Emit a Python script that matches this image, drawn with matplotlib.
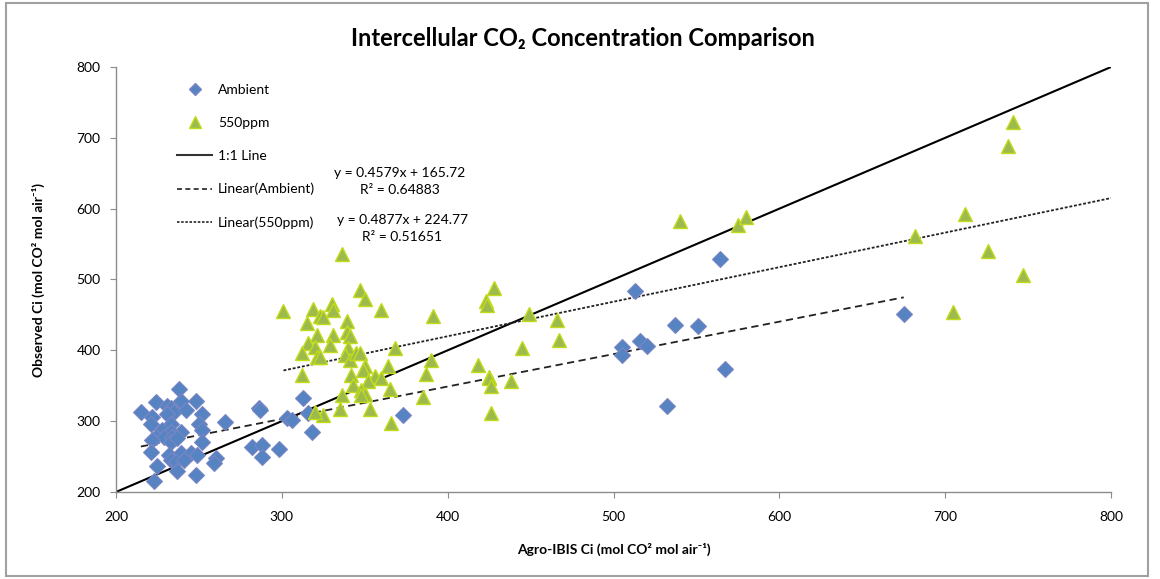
import matplotlib.pyplot as plt
from matplotlib.patches import Rectangle
from matplotlib.lines import Line2D
import numpy as np

# Ambient CO2 runs: model Ci vs observed Ci
ambient_x = [215, 224, 238, 239, 248, 231, 233, 235, 242, 222, 252, 231, 266, 221, 233,
             250, 228, 233, 239, 252, 224, 229, 234, 222, 233, 237, 252, 221, 232, 239,
             245, 249, 233, 236, 241, 260, 259, 225, 237, 248, 223, 282, 288, 288, 286,
             287, 298, 303, 306, 313, 316, 318, 373, 505, 505, 513, 516, 520, 532, 537,
             551, 564, 567, 675]
ambient_y = [313, 327, 346, 328, 328, 322, 318, 313, 316, 306, 310, 310, 299, 296, 296,
             296, 288, 285, 285, 288, 278, 278, 278, 273, 271, 276, 271, 257, 252, 255,
             255, 252, 245, 242, 245, 248, 241, 236, 229, 224, 216, 264, 266, 250, 318,
             316, 260, 305, 301, 332, 312, 284, 309, 404, 394, 484, 413, 406, 322, 436,
             434, 529, 374, 451]

# Elevated CO2 (550ppm) runs
elev_x = [301, 336, 347, 350, 360, 319, 330, 331, 323, 325, 315, 339, 339, 341, 321,
          331, 316, 320, 329, 312, 321, 323, 340, 338, 341, 345, 347, 350, 349, 364,
          342, 343, 356, 360, 352, 348, 350, 348, 365, 336, 312, 335, 353, 325, 320,
          366, 368, 391, 423, 424, 390, 387, 385, 418, 425, 428, 449, 466, 467, 445,
          425, 426, 438, 426, 540, 575, 580, 682, 705, 712, 726, 738, 741, 747]
elev_y = [455, 536, 485, 472, 457, 459, 465, 457, 448, 447, 439, 441, 426, 420, 422,
          422, 411, 405, 408, 396, 390, 391, 403, 393, 386, 396, 396, 378, 372, 378,
          365, 351, 364, 361, 356, 344, 338, 337, 346, 337, 365, 317, 317, 309, 313,
          298, 403, 448, 469, 464, 387, 367, 334, 379, 363, 488, 451, 443, 414, 403,
          361, 349, 356, 312, 582, 577, 588, 562, 454, 593, 540, 688, 723, 506]

# Excel trendline coefficients (slope, intercept, R^2)
fit_ambient = (0.4579, 165.72, 0.64883)
fit_elev = (0.4877, 224.77, 0.51651)

x_ticks = [200, 300, 400, 500, 600, 700, 800]
y_ticks = [200, 300, 400, 500, 600, 700, 800]

plt.rcParams['font.family'] = ['Lato', 'DejaVu Sans']

fig = plt.figure(figsize=(11.6, 5.79), dpi=100)
ax = fig.add_axes([0.1, 0.1503, 0.8578, 0.734])

blue = '#5683C2'
green = '#9DBB4C'

ax.plot([200, 800], [200, 800], color='black', lw=1.5, zorder=2)

xa = np.array([min(ambient_x), max(ambient_x)])
ax.plot(xa, fit_ambient[0] * xa + fit_ambient[1], color='#222222', lw=1.3,
        linestyle=(0, (4, 2.5)), zorder=2)
xe = np.array([min(elev_x), 800])
ax.plot(xe, fit_elev[0] * xe + fit_elev[1], color='#222222', lw=1.3,
        linestyle=(0, (1.6, 1.0)), zorder=2)

ax.plot(ambient_x, ambient_y, 'D', color=blue, markeredgecolor='#7C86C4',
        markeredgewidth=0.8, markersize=7.8, linestyle='none', zorder=3)
ax.plot(elev_x, elev_y, '^', color=green, markeredgecolor='#C2DC1A',
        markeredgewidth=1.0, markersize=10, linestyle='none', zorder=3)

ax.set_xlim(200, 800)
ax.set_ylim(200, 800)
ax.set_xticks(x_ticks)
ax.set_yticks(y_ticks)
for side in ['top', 'right']:
    ax.spines[side].set_visible(False)
for side in ['left', 'bottom']:
    ax.spines[side].set_color('#8C8C8C')
    ax.spines[side].set_linewidth(1.0)
ax.tick_params(axis='both', direction='out', length=4, color='#8C8C8C',
               labelsize=10, labelcolor='black')
ax.tick_params(axis='x', pad=10)
ax.tick_params(axis='y', pad=7)

# legend entries
handles = [
    Line2D([], [], marker='D', color=blue, markeredgecolor='#7C86C4',
           markersize=6, linestyle='none'),
    Line2D([], [], marker='^', color=green, markeredgecolor='#C2DC1A',
           markersize=8, linestyle='none'),
    Line2D([], [], color='#333333', lw=1.5),
    Line2D([], [], color='#222222', lw=1.2, linestyle=(0, (3, 2))),
    Line2D([], [], color='#222222', lw=1.2, linestyle=(0, (1.5, 1))),
]
labels = ['Ambient', '550ppm', '1:1 Line', 'Linear(Ambient)', 'Linear(550ppm)']
fs = 10
em = fs * 100 / 72
fig.legend(handles, labels, loc='upper left', bbox_to_anchor=(0.1526, 0.855),
           frameon=False, fontsize=fs, handlelength=35 / em,
           handletextpad=6 / em, labelspacing=1.51,
           borderpad=0, borderaxespad=0)

eq_a = f"y = {fit_ambient[0]}x + {fit_ambient[1]}\nR² = {fit_ambient[2]}"
eq_e = f"y = {fit_elev[0]}x + {fit_elev[1]}\nR² = {fit_elev[2]}"
fig.text(400 / 1160, 1 - 182 / 579, eq_a, ha='center', va='center',
         fontsize=fs, linespacing=1.5)
fig.text(402 / 1160, 1 - 228 / 579, eq_e, ha='center', va='center',
         fontsize=fs, linespacing=1.5)

fig.text(583 / 1160, 1 - 38 / 579, 'Intercellular CO₂ Concentration Comparison',
         ha='center', va='center', fontsize=17, fontweight='bold')
fig.text(614 / 1160, 1 - 549 / 579, 'Agro-IBIS Ci (mol CO² mol air⁻¹)',
         ha='center', va='center', fontsize=fs, fontweight='bold')
fig.text(38 / 1160, 1 - 280 / 579, 'Observed Ci (mol CO² mol air⁻¹)',
         ha='center', va='center', fontsize=fs, fontweight='bold', rotation=90)

# chart-area border
fig.patches.append(Rectangle((6 / 1160, 3 / 579), 1142 / 1160, 573 / 579,
                             transform=fig.transFigure, fill=False,
                             edgecolor='#A0A0A0', lw=1.5))

fig.savefig('out.png', dpi=100)
